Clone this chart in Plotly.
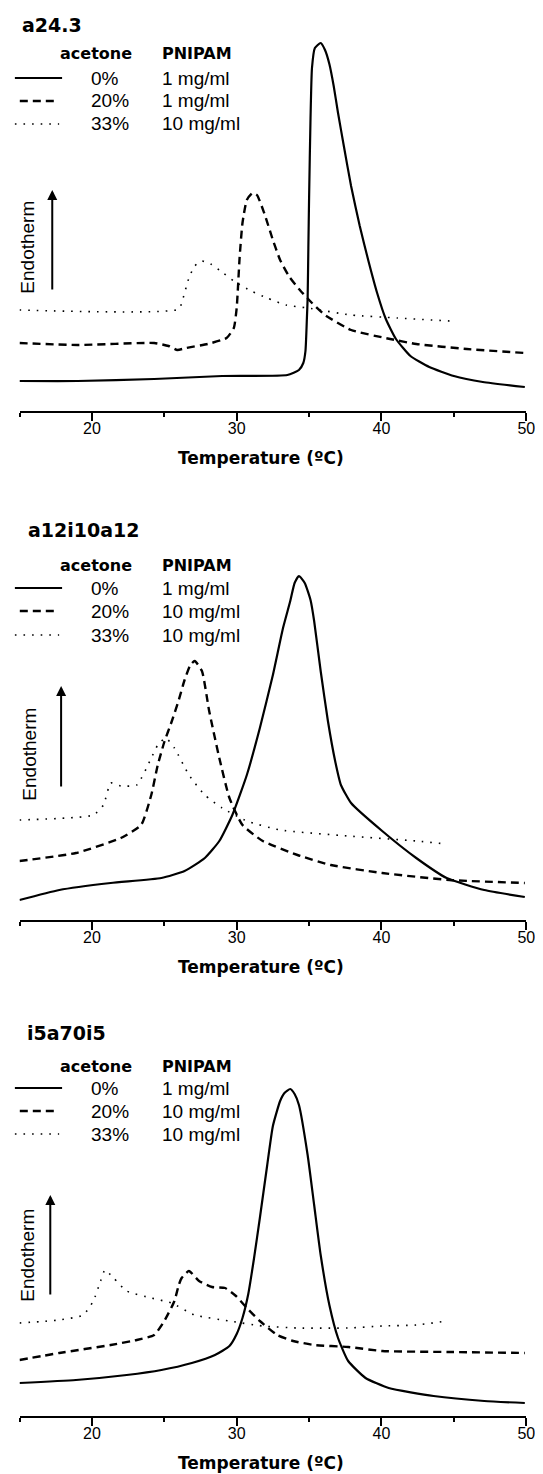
import plotly.graph_objects as go

W, H = 543, 1474

# ---------------- data (temperature in °C, heat flow in arbitrary units) ----------------
panel_titles = ["a24.3", "a12i10a12", "i5a70i5"]
acetone = ["0%", "20%", "33%"]
pnipam = [["1 mg/ml", "1 mg/ml", "10 mg/ml"],
          ["1 mg/ml", "10 mg/ml", "10 mg/ml"],
          ["1 mg/ml", "10 mg/ml", "10 mg/ml"]]
x_ticks = [20, 30, 40, 50]

# panel 1: a24.3
p1_solid_T = [15.0, 19.0, 24.3, 29.0, 33.5, 34.3, 34.6, 34.75, 34.85, 34.9, 34.95, 35.0, 35.1, 35.2, 35.4,
              35.8, 36.1, 36.4, 36.7, 37.0, 37.4, 37.9, 38.5, 39.1, 39.7, 40.3, 41.0, 42.0, 43.3, 45.0, 47.0, 49.9]
p1_solid_Q = [30, 30, 32, 35, 36, 41, 48, 60, 93, 113, 163, 213, 293, 343, 363,
              368, 361, 347, 325, 298, 265, 225, 185, 150, 118, 92, 72, 55, 44, 35, 29, 24]
p1_dash_T = [15.0, 19.0, 24.3, 25.3, 25.9, 26.5, 28.0, 29.3, 29.8, 30.0, 30.2, 30.4, 30.7, 31.1, 31.4,
             31.9, 32.5, 33.0, 33.6, 34.3, 35.2, 36.1, 37.9, 40.6, 42.4, 45.9, 49.9]
p1_dash_Q = [68, 66, 68, 65, 61, 63, 67, 73, 83, 103, 153, 188, 211, 218, 216,
             198, 171, 151, 135, 122, 108, 96, 81, 72, 67, 62, 58]
p1_dot_T = [15.0, 26.0, 26.3, 26.7, 27.1, 27.6, 28.2, 28.8, 29.8, 31.0, 32.1, 33.4, 34.9, 37.9, 41.1, 44.7]
p1_dot_Q = [101, 102, 113, 133, 145, 150, 147, 141, 130, 120, 113, 106, 103, 96, 93, 90]

# panel 2: a12i10a12
p2_solid_T = [15.0, 17.75, 21.3, 24.8, 26.4, 27.8, 28.8, 29.7, 30.7, 31.6, 32.5, 33.2, 33.7, 34.0, 34.3,
              34.7, 35.1, 35.35, 35.8, 36.3, 36.8, 37.2, 37.9, 40.05, 42.4, 44.5, 47.1, 49.9]
p2_solid_Q = [20, 30, 37, 42, 49, 62, 79, 105, 145, 192, 245, 292, 319, 337, 344,
              337, 320, 299, 249, 199, 159, 135, 117, 89, 62, 42, 30, 23]
p2_dash_T = [15.0, 18.9, 22.0, 23.4, 24.1, 24.55, 25.0, 25.5, 26.0, 26.4, 26.8, 27.1, 27.6, 28.1, 28.8, 29.5,
             30.4, 31.8, 34.2, 36.5, 40.05, 44.7, 49.9]
p2_dash_Q = [59, 67, 82, 95, 125, 155, 178, 198, 220, 240, 255, 259, 249, 209, 162, 122,
             95, 79, 65, 55, 47, 40, 37]
p2_dot_T = [15.0, 20.1, 20.8, 21.3, 22.0, 23.1, 24.1, 24.55, 25.1, 25.7, 26.7, 27.8, 29.0, 30.7, 33.0,
            37.7, 42.4, 44.5]
p2_dot_Q = [100, 105, 115, 137, 134, 135, 162, 175, 182, 172, 145, 125, 112, 99, 90, 84, 79, 76]

# panel 3: i5a70i5
p3_solid_T = [15.0, 18.9, 22.4, 24.8, 26.9, 28.5, 29.5, 30.0, 30.4, 30.8, 31.2, 31.6, 32.1, 32.5, 33.0, 33.3,
              33.7, 34.0, 34.3, 34.9, 35.35, 35.8, 36.4, 37.0, 37.7, 38.9, 40.5, 43.6, 47.1, 49.9]
p3_solid_Q = [33, 36, 41, 46, 53, 61, 70, 82, 98, 122, 158, 198, 250, 290, 315, 323,
              327, 322, 311, 261, 211, 161, 111, 78, 55, 38, 28, 20, 15, 13]
p3_dash_T = [15.0, 17.75, 21.3, 23.1, 24.3, 25.0, 25.7, 26.0, 26.2, 26.7, 27.4, 28.3, 29.2, 29.95, 30.7,
             31.6, 32.8, 33.9, 35.35, 37.7, 40.05, 44.7, 49.9]
p3_dash_Q = [56, 63, 71, 76, 81, 95, 115, 131, 138, 145, 135, 129, 128, 120, 108,
             95, 81, 75, 71, 69, 65, 64, 63]
p3_dot_T = [15.0, 17.75, 19.4, 20.1, 20.6, 20.9, 21.5, 22.4, 24.1, 25.5, 27.1, 29.5, 31.8, 34.2, 37.7,
            40.05, 42.4, 44.5]
p3_dot_Q = [93, 96, 101, 115, 135, 146, 138, 125, 118, 113, 101, 95, 90, 88, 88, 90, 91, 95]

series = [
    [(p1_solid_T, p1_solid_Q), (p1_dash_T, p1_dash_Q), (p1_dot_T, p1_dot_Q)],
    [(p2_solid_T, p2_solid_Q), (p2_dash_T, p2_dash_Q), (p2_dot_T, p2_dot_Q)],
    [(p3_solid_T, p3_solid_Q), (p3_dash_T, p3_dash_Q), (p3_dot_T, p3_dot_Q)],
]

# ---------------- layout geometry (pixels) ----------------
axis_py = [403, 912, 1408]
top_py = [0, 500, 1000]
x_left, x_right = 11.7, 527.0
title_pos = [(12, 17), (18, 522), (17, 1025)]
legend_rows = [[45, 70, 93, 116], [558, 580, 603, 627], [1058, 1080, 1103, 1126]]
endo_pos = [(20, 239), (21, 746), (19, 1247)]
arrow_pos = [(45, 283, 182), (54, 780, 678), (43, 1288, 1187)]

styles = [dict(color="black", width=2.2, dash="solid"),
          dict(color="black", width=2.4, dash="8px,5px"),
          dict(color="black", width=1.6, dash="1.6px,7px")]

def px(x):
    return x / W

def py(y):
    return 1 - y / H

fig = go.Figure()
shapes, annotations = [], []
sans = "Liberation Sans, Arial, sans-serif"
bold = "DejaVu Sans, Arial Black, sans-serif"

for i in range(3):
    sfx = "" if i == 0 else str(i + 1)
    for j, (T, Q) in enumerate(series[i]):
        fig.add_trace(go.Scatter(x=T, y=Q, mode="lines", line=dict(**styles[j], shape="spline", smoothing=0.5),
                                 xaxis="x" + sfx, yaxis="y" + sfx, showlegend=False, hoverinfo="skip"))
    yspan = axis_py[i] - top_py[i]
    fig.layout["xaxis" + sfx] = dict(
        domain=[px(x_left), px(x_right)], range=[15, 50], anchor="y" + sfx,
        showline=True, linecolor="black", linewidth=1.5, showgrid=False, zeroline=False,
        tickvals=x_ticks, ticks="outside", ticklen=8, tickwidth=1.5, tickcolor="black",
        ticklabelstandoff=-6,
        minor=dict(tickvals=[15, 25, 35, 45], ticks="outside", ticklen=4, tickwidth=1.5, tickcolor="black"),
        tickfont=dict(family=sans, size=16, color="black"))
    fig.layout["yaxis" + sfx] = dict(
        domain=[py(axis_py[i]), py(top_py[i])], range=[0, yspan], anchor="x" + sfx,
        visible=False, showgrid=False, zeroline=False)

    # panel title
    tx, ty = title_pos[i]
    annotations.append(dict(text="<b>%s</b>" % panel_titles[i], x=px(tx), y=py(ty), xref="paper", yref="paper",
                            xanchor="left", yanchor="middle", showarrow=False,
                            font=dict(family=bold, size=19, color="black")))
    # axis title
    annotations.append(dict(text="<b>Temperature (ºC)</b>", x=px(257), y=py(axis_py[i] + 47), xref="paper",
                            yref="paper", xanchor="center", yanchor="middle", showarrow=False,
                            font=dict(family=bold, size=17, color="black")))
    # legend header
    rows = legend_rows[i]
    annotations.append(dict(text="<b>acetone</b>", x=px(89), y=py(rows[0]), xref="paper", yref="paper",
                            xanchor="center", yanchor="middle", showarrow=False,
                            font=dict(family=bold, size=16, color="black")))
    annotations.append(dict(text="<b>PNIPAM</b>", x=px(155), y=py(rows[0]), xref="paper", yref="paper",
                            xanchor="left", yanchor="middle", showarrow=False,
                            font=dict(family=bold, size=16, color="black")))
    for j in range(3):
        ry = rows[j + 1]
        annotations.append(dict(text=acetone[j], x=px(82), y=py(ry), xref="paper", yref="paper",
                                xanchor="left", yanchor="middle", showarrow=False,
                                font=dict(family=sans, size=19, color="black")))
        annotations.append(dict(text=pnipam[i][j], x=px(155), y=py(ry), xref="paper", yref="paper",
                                xanchor="left", yanchor="middle", showarrow=False,
                                font=dict(family=sans, size=19, color="black")))
        x0, x1 = [(7, 55), (12, 50), (7, 52)][j]
        shapes.append(dict(type="line", xref="paper", yref="paper", x0=px(x0), x1=px(x1), y0=py(ry), y1=py(ry),
                           line=dict(color="black", width=styles[j]["width"], dash=styles[j]["dash"])))
    # Endotherm label + arrow
    ex, ey = endo_pos[i]
    annotations.append(dict(text="Endotherm", x=px(ex), y=py(ey), xref="paper", yref="paper", textangle=-90,
                            xanchor="center", yanchor="middle", showarrow=False,
                            font=dict(family=sans, size=19, color="black")))
    ax_, y_tail, y_head = arrow_pos[i]
    annotations.append(dict(text="", x=px(ax_), y=py(y_head), xref="paper", yref="paper",
                            ax=0, ay=y_tail - y_head, showarrow=True, arrowhead=2, arrowsize=1,
                            arrowwidth=2, arrowcolor="black"))

fig.update_layout(width=W, height=H, margin=dict(l=0, r=0, t=0, b=0), plot_bgcolor="white",
                  paper_bgcolor="white", shapes=shapes, annotations=annotations)
fig.write_html("out.html")
